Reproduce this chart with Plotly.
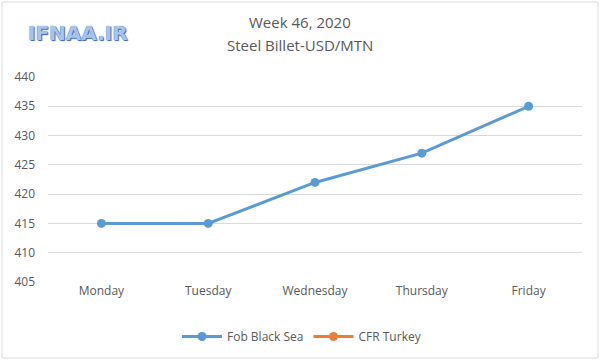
import plotly.graph_objects as go

days = ["Monday", "Tuesday", "Wednesday", "Thursday", "Friday"]
fob_black_sea = [415, 415, 422, 427, 435]
cfr_turkey = [None, None, None, None, None]
y_ticks = [405, 410, 415, 420, 425, 430, 435, 440]

fig = go.Figure()
fig.add_trace(go.Scatter(x=days, y=fob_black_sea, name="Fob Black Sea", mode="lines+markers",
                         line=dict(color="#5B9BD5", width=3), marker=dict(size=9, color="#5B9BD5")))
fig.add_trace(go.Scatter(x=days, y=cfr_turkey, name="CFR Turkey", mode="lines+markers",
                         line=dict(color="#ED7D31", width=3), marker=dict(size=9, color="#ED7D31")))

PW, PH = 534, 205
fig.update_layout(
    width=600, height=360,
    margin=dict(l=48, r=18, t=77, b=78, autoexpand=False),
    paper_bgcolor="white", plot_bgcolor="white",
    font=dict(family="Open Sans, Lato, sans-serif", size=12, color="#595959"),
    xaxis=dict(range=[-0.5, 4.5], showgrid=False, showline=False, ticks="",
               tickfont=dict(size=12, color="#595959")),
    yaxis=dict(range=[405, 440], tickvals=y_ticks, showgrid=True, gridcolor="#D9D9D9", gridwidth=1,
               zeroline=False, showline=False, ticks="", ticklabelstandoff=12,
               tickfont=dict(size=12, color="#595959")),
    legend=dict(orientation="h", x=(302 - 48) / PW, xanchor="center", y=-40 / PH, yanchor="top",
                itemwidth=40, font=dict(size=12, color="#595959")),
    showlegend=True,
)

fig.add_annotation(text="Week 46, 2020", xref="paper", yref="paper", x=(300 - 48) / PW,
                   y=1 + (77 - 22) / PH, xanchor="center", yanchor="middle", showarrow=False,
                   font=dict(size=15, color="#595959"))
fig.add_annotation(text="Steel Billet-USD/MTN", xref="paper", yref="paper", x=(300 - 48) / PW,
                   y=1 + (77 - 45) / PH, xanchor="center", yanchor="middle", showarrow=False,
                   font=dict(size=15, color="#595959"))

fig.add_annotation(text="<b>IFNAA.IR</b>", xref="paper", yref="paper", x=(26 - 48) / PW,
                   y=1 + (77 - 33) / PH, xanchor="left", yanchor="middle", showarrow=False,
                   font=dict(size=20, color="#A8C3EC", family="DejaVu Sans, sans-serif",
                             shadow="0px 0px 1px #2F62B8, 1px 1px 1px #2F62B8"))

fig.add_shape(type="rect", xref="paper", yref="paper", x0=-46 / PW, x1=1 + 16 / PW,
              y0=-76 / PH, y1=1 + 75 / PH, line=dict(color="#D9D9D9", width=1))

fig.write_html("out.html", config={"displayModeBar": False},
               post_script="document.body.style.margin='0';")
